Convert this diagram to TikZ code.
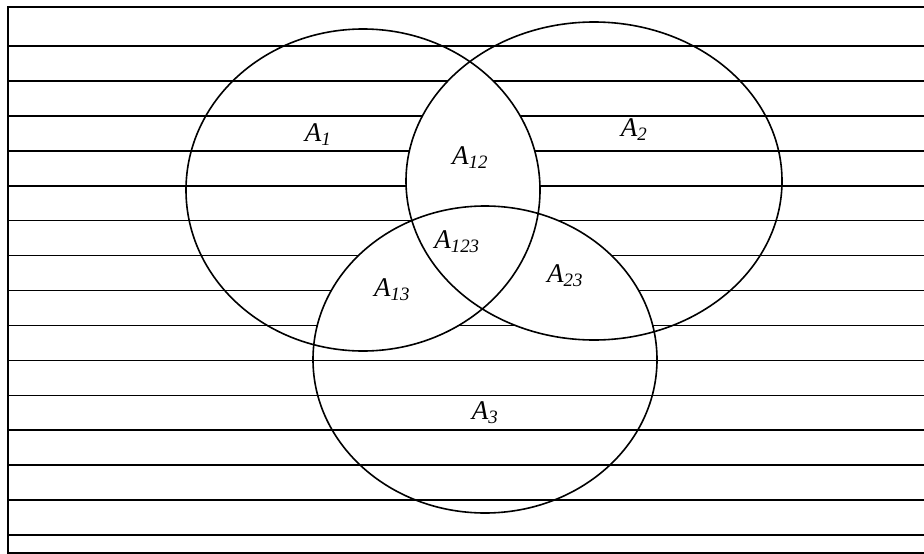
\documentclass[tikz,border=0pt]{standalone}
\usepackage{fontspec}
\setmainfont{Liberation Serif}
\usepackage{tikz}
\usetikzlibrary{positioning}

\newcommand{\ellA}{(363,190) ellipse [x radius=177, y radius=161]}
\newcommand{\ellB}{(594,181) ellipse [x radius=188, y radius=159]}
\newcommand{\ellC}{(485,359.5) ellipse [x radius=172, y radius=153.5]}
\newcommand{\setlab}[2]{\textit{#1\textsubscript{#2}}}

\begin{document}
\begin{tikzpicture}[
  x=1pt, y=-1pt,
  font=\fontsize{27}{31}\selectfont,
  raya/.style={draw=black, line width=1.6pt},
  marco/.style={draw=black, line width=1.6pt},
  conjunto/.style={draw=black, line width=1.6pt},
  etiqueta/.style={inner sep=0pt}
]
\useasboundingbox (0,0) rectangle (924,554);
% rayado de fondo
\foreach \k in {0,...,14}
  \draw[raya] (8,46+34.93*\k) -- (924,46+34.93*\k);
% intersecciones en blanco
\begin{scope}
  \clip \ellA;
  \fill[white] \ellB;
  \fill[white] \ellC;
\end{scope}
\begin{scope}
  \clip \ellB;
  \fill[white] \ellC;
\end{scope}
% marco
\draw[marco] (924,7) -- (8,7) -- (8,553) -- (924,553);
% conjuntos
\draw[conjunto] \ellA;
\draw[conjunto] \ellB;
\draw[conjunto] \ellC;
% etiquetas
\node[etiqueta] (a1) at (318,135) {\setlab{A}{1}};
\node[etiqueta] (a2) at (634,130) {\setlab{A}{2}};
\node[etiqueta] (a3) at (485,413) {\setlab{A}{3}};
\node[etiqueta] (a12) at (470,158) {\setlab{A}{12}};
\node[etiqueta] (a13) at (392,290) {\setlab{A}{13}};
\node[etiqueta] (a23) at (565,276) {\setlab{A}{23}};
\node[etiqueta] (a123) at (457,242) {\setlab{A}{123}};
\end{tikzpicture}
\end{document}
